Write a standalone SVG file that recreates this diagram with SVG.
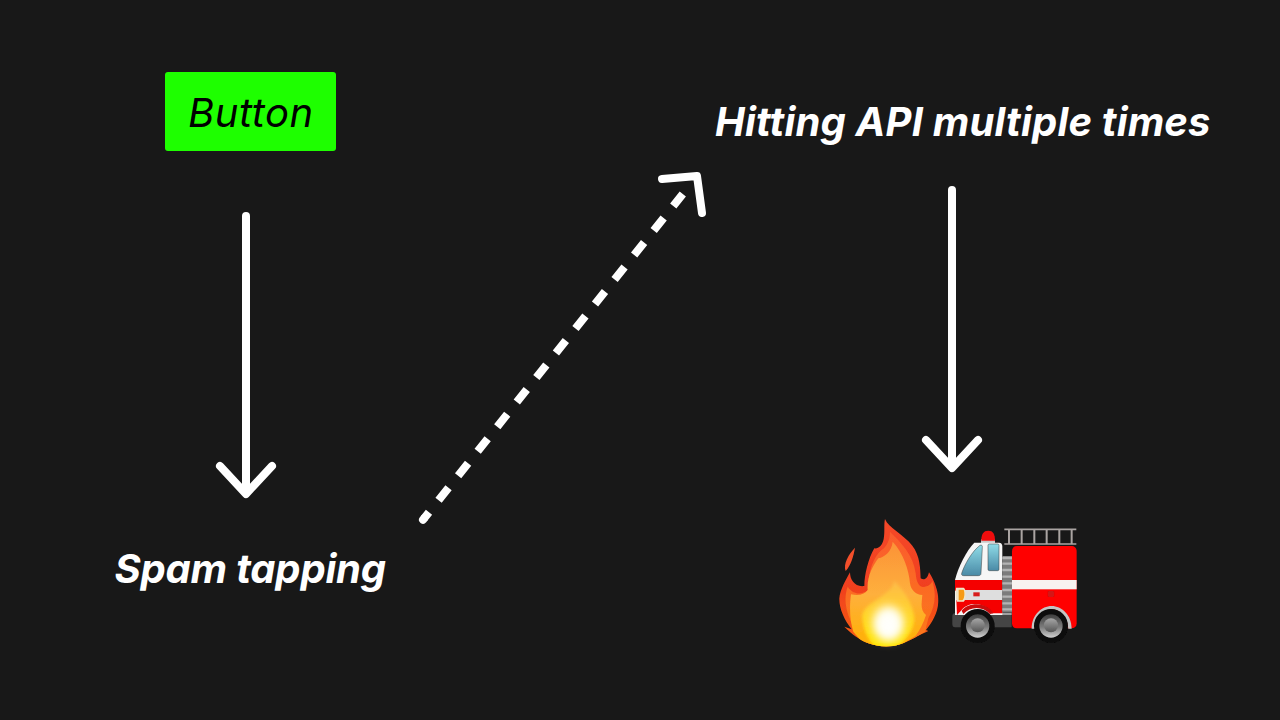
<svg xmlns="http://www.w3.org/2000/svg" width="1280" height="720" viewBox="0 0 1280 720">
  <style>
    .label { font-family: Inter, "Noto Sans", "Liberation Sans", sans-serif; font-style: italic; font-size: 40px; }
    .strong { font-weight: 700; fill: #ffffff; }
    .line { fill: none; stroke: #ffffff; stroke-width: 8; stroke-linecap: round; stroke-linejoin: round; }
    .dash { stroke-dasharray: 16 15.37; stroke-dashoffset: 8; stroke-linecap: butt; }
  </style>
  <defs>
    <linearGradient id="flameOuter" x1="0" y1="0" x2="0" y2="1">
      <stop offset="0" stop-color="#f5482a"/>
      <stop offset="0.55" stop-color="#f0401f"/>
      <stop offset="1" stop-color="#f8620f"/>
    </linearGradient>
    <linearGradient id="flameInner" x1="0" y1="0" x2="0" y2="1">
      <stop offset="0" stop-color="#fa5c2e"/>
      <stop offset="1" stop-color="#fc7a18"/>
    </linearGradient>
    <linearGradient id="flameMid" x1="0" y1="0" x2="0" y2="1">
      <stop offset="0" stop-color="#fb9238"/>
      <stop offset="0.5" stop-color="#feb03c"/>
      <stop offset="1" stop-color="#ffb000"/>
    </linearGradient>
    <linearGradient id="flameCore" x1="0" y1="0" x2="0" y2="1">
      <stop offset="0" stop-color="#fdb94a"/>
      <stop offset="0.5" stop-color="#ffd52a"/>
      <stop offset="1" stop-color="#ffe800"/>
    </linearGradient>
    <linearGradient id="hub" x1="0" y1="0" x2="0" y2="1">
      <stop offset="0" stop-color="#3e3e3e"/>
      <stop offset="0.55" stop-color="#7c7c7c"/>
      <stop offset="1" stop-color="#cfcfcf"/>
    </linearGradient>
    <linearGradient id="cap" x1="0" y1="0" x2="0" y2="1">
      <stop offset="0" stop-color="#a6a6a6"/>
      <stop offset="1" stop-color="#565656"/>
    </linearGradient>
    <linearGradient id="glass" x1="0" y1="0" x2="0" y2="1">
      <stop offset="0" stop-color="#8fdce8"/>
      <stop offset="1" stop-color="#4a8aa6"/>
    </linearGradient>
    <filter id="soft" x="-5%" y="-5%" width="110%" height="110%"><feGaussianBlur stdDeviation="1.4"/></filter>
    <filter id="blend" x="-15%" y="-15%" width="130%" height="130%"><feGaussianBlur stdDeviation="5"/></filter>
    <filter id="glow" x="-60%" y="-60%" width="220%" height="220%"><feGaussianBlur stdDeviation="14"/></filter>
    <clipPath id="flameClip">
      <path d="M180 12C190 38 235 58 262 92C285 122 286 160 287 190C298 198 308 190 312 172C330 200 342 235 340 262C338 295 322 322 303 345L310 348C285 358 255 378 225 388C195 398 160 396 130 385C105 376 78 355 58 335L80 343C58 315 42 280 43 250C45 225 62 195 75 172C75 195 90 217 118 213C118 180 130 130 148 100C160 102 172 92 176 72C180 50 176 30 180 12Z"/>
    </clipPath>
  </defs>

  <rect width="1280" height="720" fill="#181818"/>

  <g id="connectors">
    <path class="line" d="M246 216V492M220 466L246 494L272 466"/>
    <path class="line" d="M952 190V466M926 440L952 468L978 440"/>
    <path class="line dash" d="M424 518.5L682.8 193.9"/>
    <path d="M424 518.5L423 519.8" fill="none" stroke="#ffffff" stroke-width="8" stroke-linecap="round"/>
    <path class="line" d="M662 179L697 176L702 213"/>
  </g>

  <g id="button">
    <rect x="165" y="72" width="171" height="79" rx="3" fill="#1eff00"/>
    <text class="label" x="188" y="127" fill="#000000" letter-spacing="0.55">Button</text>
  </g>

  <g id="spam-tapping">
    <text class="label strong" x="114.5" y="583" letter-spacing="-0.18">Spam tapping</text>
  </g>

  <g id="hitting-api">
    <text class="label strong" x="715" y="136" letter-spacing="0.17">Hitting API multiple times</text>
  </g>

  <g id="flame" transform="translate(825 515) scale(0.3333)" filter="url(#soft)">
    <path d="M90 98C86 122 78 150 62 168C54 148 70 118 90 98Z" fill="#f4502c"/>
    <g clip-path="url(#flameClip)">
      <rect x="30" y="0" width="320" height="400" fill="url(#flameOuter)"/>
      <path d="M195 50C230 85 265 120 272 175C274 205 285 220 300 215C315 212 320 205 322 198C335 240 330 275 310 310L300 350L225 398H130L90 350L70 300C60 270 58 245 68 215C85 240 110 240 130 225C128 175 145 125 170 105C185 95 195 75 195 50Z" fill="url(#flameInner)"/>
      <path d="M203 80C235 115 252 165 255 205C258 225 272 240 292 240C290 265 285 285 303 300C295 325 285 345 272 362L215 398H125L85 350C76 320 72 285 78 238C100 242 118 240 128 225C125 185 145 150 160 130C180 125 200 110 203 80Z" fill="url(#flameMid)"/>
      <path d="M208 197C235 225 262 262 268 305C270 335 250 370 215 398H150C130 375 112 340 112 305C112 275 150 260 175 240C195 225 205 215 208 197Z" fill="url(#flameCore)" filter="url(#blend)"/>
    </g>
    <ellipse cx="190" cy="325" rx="46" ry="52" fill="#fffef0" filter="url(#glow)"/>
    <ellipse cx="190" cy="332" rx="30" ry="34" fill="#ffffff" opacity="0.8" filter="url(#glow)"/>
  </g>

  <g id="fire-truck" transform="translate(945 520) scale(0.3333)" filter="url(#soft)">
    <!-- roof ladder -->
    <g fill="none" stroke="#aaa4a2">
      <path d="M178 28H394M178 72H394" stroke-width="5"/>
      <path d="M192 28V72M230 28V72M268 28V72M305 28V72M343 28V72M380 28V72" stroke-width="6"/>
    </g>
    <!-- beacon -->
    <rect x="108" y="58" width="42" height="12" fill="#c8c8c8"/>
    <path d="M109 62C109 42 115 32 130 32C144 32 150 42 150 62Z" fill="#f01010"/>
    <!-- chassis -->
    <path d="M28 280H200V322H30C24 322 22 318 22 312V290C22 284 24 280 28 280Z" fill="#444444"/>
    <rect x="148" y="279" width="52" height="6" fill="#a0a0a0"/>
    <!-- cab shell -->
    <path d="M30 285V180C38 145 65 90 88 68H162C169 68 172 72 172 80V285Z" fill="#f6f6f6"/>
    <path d="M30 180H172V212H30Z" fill="#f50505"/>
    <path d="M34 210H172V240H34Z" fill="#dedede"/>
    <path d="M34 240H172V280H140C125 250 75 240 50 270L36 285Z" fill="#f50505"/>
    <path d="M50 272C70 245 125 245 145 280L135 282C115 258 75 258 55 282Z" fill="#c80808"/>
    <path d="M50 160C58 135 80 95 105 76C110 74 113 77 112 82L108 160C108 165 105 167 100 167H56C51 167 49 165 50 160Z" fill="url(#glass)" stroke="#3a3a3a" stroke-width="1.5"/>
    <rect x="129" y="72" width="33" height="80" rx="4" fill="url(#glass)" stroke="#3a3a3a" stroke-width="1.5"/>
    <rect x="85" y="217" width="19" height="12" fill="#d81c1c"/>
    <path d="M33 203H56C64 205 64 240 56 245H36C31 232 31 215 33 203Z" fill="#eee4c8"/>
    <path d="M41 209H56C60 220 58 235 52 241H41Z" fill="#f69a12"/>
    <!-- equipment column -->
    <rect x="172" y="108" width="29" height="170" fill="#7c7c7c"/>
    <path d="M172 114H201M172 131H201M172 150H201M172 170H201M172 190H201M172 210H201M172 230H201M172 250H201M172 268H201" stroke="#b4b4b4" stroke-width="7"/>
    <!-- box body -->
    <path d="M216 78H378C389 78 395 84 395 95V310C395 320 389 325 378 325H216C206 325 201 319 201 310V95C201 84 206 78 216 78Z" fill="#ff0000"/>
    <rect x="201" y="180" width="194" height="28" fill="#f8f2f0"/>
    <rect x="308" y="213" width="20" height="18" rx="2" fill="#d41212"/>
    <!-- rear wheel arch -->
    <path d="M260 326C260 285 290 258 320 258C350 258 380 285 380 326H370C368 292 345 268 320 268C295 268 270 292 270 326Z" fill="#c4c4c4"/>
    <!-- wheels -->
    <g>
      <circle cx="98" cy="318" r="51" fill="#0a0a0a"/>
      <circle cx="98" cy="318" r="35" fill="url(#hub)"/>
      <circle cx="98" cy="316" r="21" fill="url(#cap)"/>
      <circle cx="318" cy="318" r="51" fill="#0a0a0a"/>
      <circle cx="318" cy="318" r="35" fill="url(#hub)"/>
      <circle cx="318" cy="316" r="21" fill="url(#cap)"/>
    </g>
  </g>
</svg>
